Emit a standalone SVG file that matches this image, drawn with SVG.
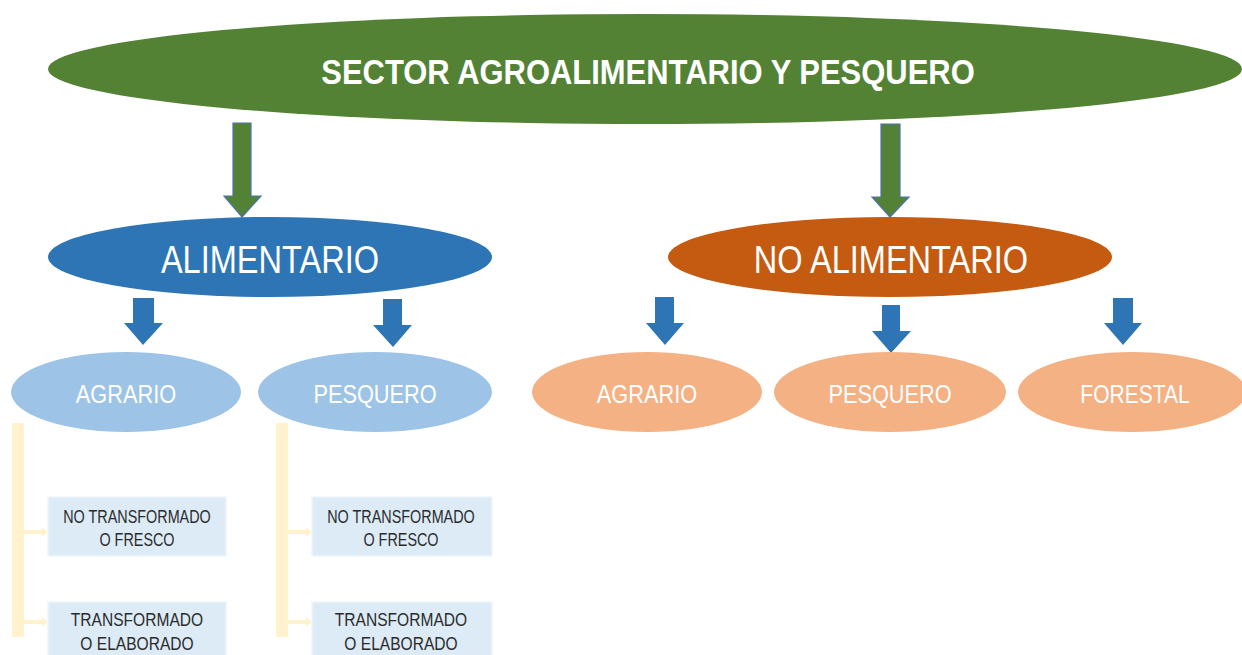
<svg xmlns="http://www.w3.org/2000/svg" width="1242" height="655" viewBox="0 0 1242 655">
<style>
text{font-family:"Liberation Sans",Arial,sans-serif;text-anchor:middle}
.w{fill:#ffffff}
.d{fill:#2b2b2b}
.garrow{fill:#548235;stroke:#4A74A8;stroke-width:1.2}
.barrow{fill:#2E75B6}
.lb{fill:#9DC3E6}
.lo{fill:#F4B183}
.box{fill:#DDEBF7;stroke:#EEF5FB;stroke-width:1.5}
.bar{fill:#FFF2CC}
</style>
<rect width="1242" height="655" fill="#ffffff"/>
<g id="connectors">
<polygon class="garrow" points="233,123 251,123 251,196 261,196 242,217 224,196 233,196"/>
<polygon class="garrow" points="881,124 900,124 900,197 909,197 890,217 872,197 881,197"/>
<polygon class="barrow" points="133,298 154,298 154,323 163,323 143,345 124,323 133,323"/>
<polygon class="barrow" points="383,299 402,299 402,325 412,325 393,347 373,325 383,325"/>
<polygon class="barrow" points="655,297 674,297 674,323 684,323 665,345 646,323 655,323"/>
<polygon class="barrow" points="882,305 900,305 900,331 911,331 891,353 872,331 882,331"/>
<polygon class="barrow" points="1113,298 1133,298 1133,323 1142,323 1123,345 1104,323 1113,323"/>
<rect class="bar" x="12" y="423" width="12" height="214"/>
<rect class="bar" x="276" y="423" width="12" height="214"/>
<polygon class="bar" points="24,530 42,530 42,527 48,532 42,537 42,534 24,534"/>
<polygon class="bar" points="24,620 42,620 42,617 48,622 42,627 42,624 24,624"/>
<polygon class="bar" points="288,530 306,530 306,527 312,532 306,537 306,534 288,534"/>
<polygon class="bar" points="288,620 306,620 306,617 312,622 306,627 306,624 288,624"/>
</g>
<g id="root">
<ellipse cx="645" cy="69" rx="597" ry="55" fill="#548235"/>
<text class="w" transform="translate(648,84) scale(0.86,1)" font-size="36" font-weight="bold">SECTOR AGROALIMENTARIO Y PESQUERO</text>
</g>
<g id="alimentario">
<ellipse cx="270" cy="257" rx="222" ry="40" fill="#2E75B6"/>
<text class="w" transform="translate(270,273) scale(0.835,1)" font-size="39">ALIMENTARIO</text>
</g>
<g id="no-alimentario">
<ellipse cx="890" cy="257" rx="222" ry="40" fill="#C55A11"/>
<text class="w" transform="translate(891,273) scale(0.835,1)" font-size="39">NO ALIMENTARIO</text>
</g>
<g id="a-agrario">
<ellipse class="lb" cx="126" cy="392" rx="115" ry="40"/>
<text class="w" transform="translate(126,403) scale(0.87,1)" font-size="25">AGRARIO</text>
</g>
<g id="a-pesquero">
<ellipse class="lb" cx="375" cy="392" rx="117" ry="40"/>
<text class="w" transform="translate(375,403) scale(0.87,1)" font-size="25">PESQUERO</text>
</g>
<g id="n-agrario">
<ellipse class="lo" cx="647" cy="392" rx="115" ry="40"/>
<text class="w" transform="translate(647,403) scale(0.87,1)" font-size="25">AGRARIO</text>
</g>
<g id="n-pesquero">
<ellipse class="lo" cx="890" cy="392" rx="116" ry="40"/>
<text class="w" transform="translate(890,403) scale(0.87,1)" font-size="25">PESQUERO</text>
</g>
<g id="n-forestal">
<ellipse class="lo" cx="1132" cy="392" rx="114" ry="40"/>
<text class="w" transform="translate(1135,403) scale(0.84,1)" font-size="25">FORESTAL</text>
</g>
<g id="agr-fresco">
<rect class="box" x="48" y="497" width="178" height="59"/>
<text class="d" transform="translate(137,523) scale(0.8,1)" font-size="18">NO TRANSFORMADO</text>
<text class="d" transform="translate(137,546) scale(0.8,1)" font-size="18">O FRESCO</text>
</g>
<g id="agr-elaborado">
<rect class="box" x="48" y="602" width="178" height="60"/>
<text class="d" transform="translate(137,626) scale(0.82,1)" font-size="19">TRANSFORMADO</text>
<text class="d" transform="translate(137,650) scale(0.82,1)" font-size="19">O ELABORADO</text>
</g>
<g id="pes-fresco">
<rect class="box" x="312" y="497" width="180" height="59"/>
<text class="d" transform="translate(401,523) scale(0.8,1)" font-size="18">NO TRANSFORMADO</text>
<text class="d" transform="translate(401,546) scale(0.8,1)" font-size="18">O FRESCO</text>
</g>
<g id="pes-elaborado">
<rect class="box" x="312" y="602" width="180" height="60"/>
<text class="d" transform="translate(401,626) scale(0.82,1)" font-size="19">TRANSFORMADO</text>
<text class="d" transform="translate(401,650) scale(0.82,1)" font-size="19">O ELABORADO</text>
</g>
</svg>
